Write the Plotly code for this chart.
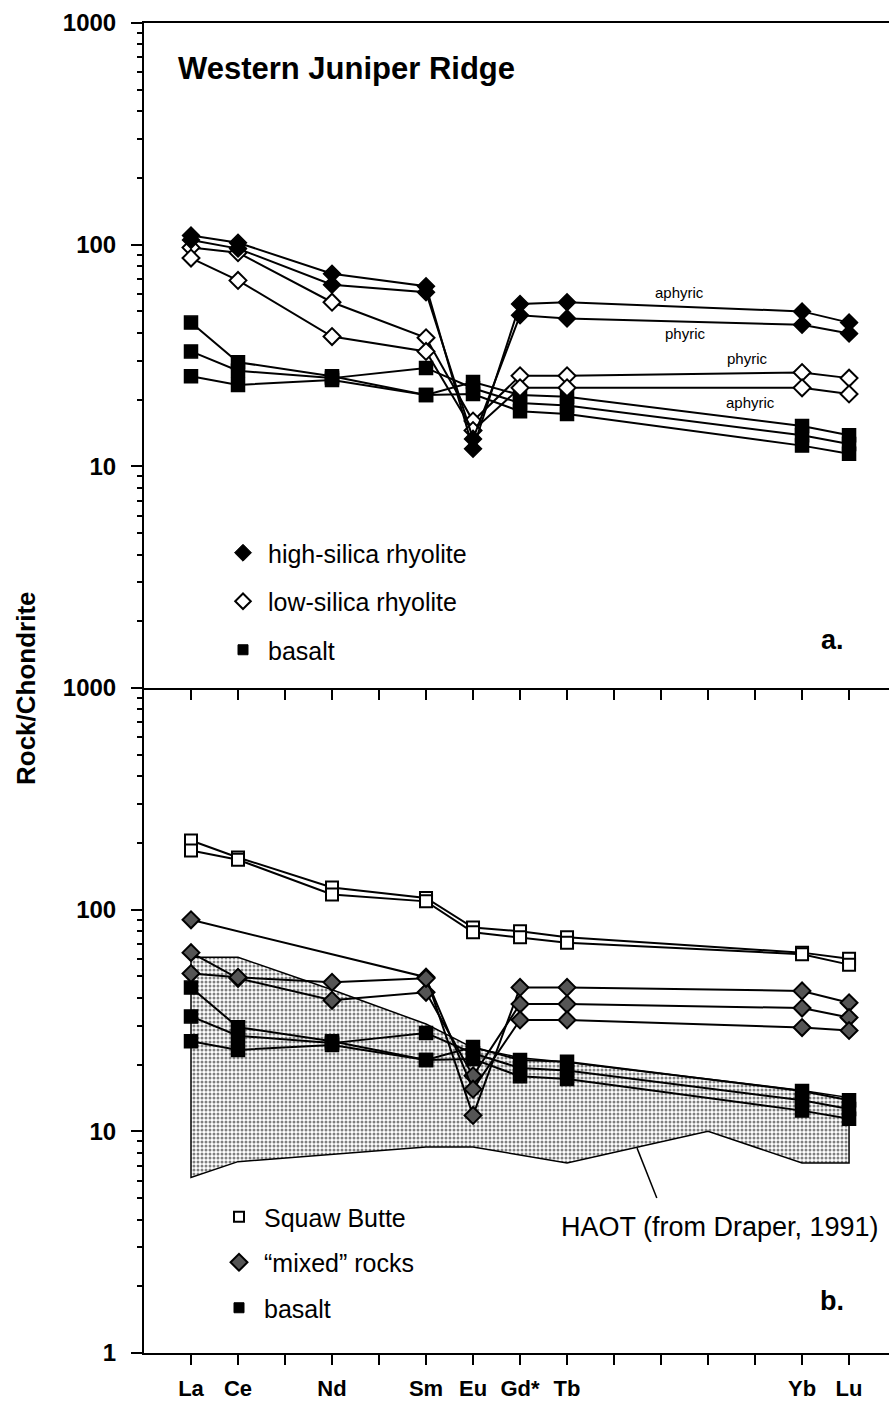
import plotly.graph_objects as go

# ---------------- data ----------------
elements = ["La", "Ce", "Nd", "Sm", "Eu", "Gd*", "Tb", "Yb", "Lu"]
atomic_no = [57, 58, 60, 62, 63, 64, 65, 70, 71]

# panel a: high-silica rhyolite (filled diamonds)
hsr_aphyric = [110, 102, 74, 65, 12.0, 54, 55, 50, 44.5]
hsr_phyric = [105, 96, 66, 61, 13.3, 48, 46.5, 43.5, 39.7]
# panel a: low-silica rhyolite (open diamonds)
lsr_phyric = [97, 92, 55, 38, 16.0, 25.6, 25.6, 26.5, 25.0]
lsr_aphyric = [87, 69, 38.5, 33, 14.5, 22.6, 22.6, 22.6, 21.2]
# basalt (both panels, filled squares)
basalt_1 = [44.5, 29.5, 25.5, 21.0, 24.0, 21.0, 20.6, 15.2, 13.8]
basalt_2 = [33.0, 27.0, 25.0, 27.8, 22.5, 19.3, 18.8, 13.8, 12.6]
basalt_3 = [25.5, 23.3, 24.5, 21.0, 21.2, 17.7, 17.2, 12.4, 11.4]
# panel b: Squaw Butte (open squares)
squaw_1 = [205, 172, 126, 113, 83, 80, 75, 64, 60]
squaw_2 = [185, 168, 117, 109, 79, 75, 71, 63, 56.5]
# panel b: "mixed" rocks (hatched diamonds)
mixed_1 = [90, None, None, 49.6, 11.8, 44.6, 44.6, 43, 38]
mixed_2 = [64, 49.0, 39, 42.4, 17.8, 37.5, 37.5, 36, 32.6]
mixed_3 = [51.5, 49.5, 47, 49.0, 15.5, 31.8, 31.8, 29.4, 28.5]
# HAOT field (Draper, 1991)
haot_up_x = [57, 58, 60, 62, 63, 64, 65, 70, 71]
haot_up_y = [61, 61, 43.5, 30.5, 23.8, 21.5, 20.5, 15.3, 14.2]
haot_lo_x = [57, 58, 62, 63, 65, 68, 70, 71]
haot_lo_y = [6.2, 7.3, 8.5, 8.5, 7.2, 10.0, 7.2, 7.2]
# leader line for HAOT label
leader_x = [66.49, 66.91]
leader_y = [8.4, 5.0]

# axis ticks
x_tickvals = list(range(57, 72))
x_ticktext = ["La", "Ce", "", "Nd", "", "Sm", "Eu", "Gd*", "Tb", "", "", "", "", "Yb", "Lu"]
minor_vals = [m * 10 ** k for k in range(0, 3) for m in range(2, 10)]

FONT = "Liberation Sans, Arial, Helvetica, sans-serif"
W, H = 889, 1402
L, R, T, B = 144, 0, 23, 49

fig = go.Figure()

def line_trace(y, xa, ya, symbol, size, fill, lw=1.5):
    return go.Scatter(
        x=atomic_no, y=y, xaxis=xa, yaxis=ya, mode="lines+markers",
        connectgaps=True, showlegend=False, hoverinfo="skip",
        line=dict(color="black", width=2),
        marker=dict(symbol=symbol, size=size, color=fill,
                    line=dict(color="black", width=lw)),
    )

# ---- panel a ----
for s in [basalt_1, basalt_2, basalt_3]:
    fig.add_trace(line_trace(s, "x", "y", "square", 13, "black"))
for s in [lsr_phyric, lsr_aphyric]:
    fig.add_trace(line_trace(s, "x", "y", "diamond", 13, "white", 2))
for s in [hsr_aphyric, hsr_phyric]:
    fig.add_trace(line_trace(s, "x", "y", "diamond", 13, "black"))

# ---- panel b ----
poly_x = haot_up_x + haot_lo_x[::-1] + [haot_up_x[0]]
poly_y = haot_up_y + haot_lo_y[::-1] + [haot_up_y[0]]
fig.add_trace(go.Scatter(
    x=poly_x, y=poly_y, xaxis="x2", yaxis="y2", mode="lines", fill="toself",
    fillcolor="rgba(0,0,0,0)",
    fillpattern=dict(shape=".", fgcolor="black", bgcolor="white", size=4, solidity=0.45),
    line=dict(color="black", width=1.5), showlegend=False, hoverinfo="skip"))
fig.add_trace(go.Scatter(
    x=leader_x, y=leader_y, xaxis="x2", yaxis="y2", mode="lines",
    line=dict(color="black", width=1.5), showlegend=False, hoverinfo="skip"))
for s in [basalt_1, basalt_2, basalt_3]:
    fig.add_trace(line_trace(s, "x2", "y2", "square", 13, "black"))
for s in [mixed_1, mixed_2, mixed_3]:
    fig.add_trace(line_trace(s, "x2", "y2", "diamond", 13, "#555555", 2))
for s in [squaw_1, squaw_2]:
    fig.add_trace(line_trace(s, "x2", "y2", "square", 12, "white", 2))

# ---- legends ----
def leg(name, symbol, size, fill, lw, legend, grp):
    return go.Scatter(x=[None], y=[None], mode="markers", name=name, legend=legend,
                      legendgroup=grp, xaxis="x", yaxis="y",
                      marker=dict(symbol=symbol, size=size, color=fill,
                                  line=dict(color="black", width=lw)))

fig.add_trace(leg("high-silica rhyolite", "diamond", 13, "black", 1, "legend", "a1"))
fig.add_trace(leg("low-silica rhyolite", "diamond", 12, "white", 2, "legend", "a2"))
fig.add_trace(leg("basalt", "square", 10, "black", 1, "legend", "a3"))
fig.add_trace(leg("Squaw Butte", "square", 10, "white", 2, "legend2", "b1"))
fig.add_trace(leg("\u201cmixed\u201d rocks", "diamond", 13, "#555555", 2, "legend2", "b2"))
fig.add_trace(leg("basalt", "square", 10, "black", 1, "legend2", "b3"))

def px2paper_x(px):
    return (px - L) / (W - L - R)

def px2paper_y(py):
    return (H - B - py) / (H - T - B)

legend_common = dict(
    font=dict(family=FONT, size=25, color="black"),
    bgcolor="rgba(0,0,0,0)", borderwidth=0, itemwidth=40,
    xanchor="left", yanchor="top", itemclick=False, itemdoubleclick=False,
)
layout_legend = dict(legend_common, x=px2paper_x(218), y=px2paper_y(530), tracegroupgap=13)
layout_legend2 = dict(legend_common, x=px2paper_x(214), y=px2paper_y(1194), tracegroupgap=10)

axis_line = dict(showline=True, linecolor="black", linewidth=2, showgrid=False,
                 zeroline=False, ticks="outside", tickcolor="black", tickwidth=2)

xaxis = dict(axis_line, domain=[0, 1], anchor="y", range=[56, 71.85], mirror=True,
             tickvals=x_tickvals, ticklen=10, showticklabels=False)
xaxis2 = dict(axis_line, domain=[0, 1], anchor="y2", range=[56, 71.85],
              tickvals=x_tickvals, ticktext=x_ticktext, ticklen=10, ticklabelstandoff=5,
              tickfont=dict(family=FONT, size=22, color="black", weight="bold"))
ymin = dict(ticks="outside", ticklen=5, tickwidth=1.5, tickcolor="black", tickvals=minor_vals)
yaxis = dict(axis_line, type="log", range=[0, 3], domain=[0.5, 1], anchor="x",
             tickvals=[1, 10, 100, 1000], ticktext=["", "10", "100", "1000"], ticklen=11,
             ticklabelstandoff=10,
             tickfont=dict(family=FONT, size=24, color="black", weight="bold"), minor=ymin)
yaxis2 = dict(axis_line, type="log", range=[0, 3], domain=[0, 0.5], anchor="x2",
              tickvals=[1, 10, 100, 1000], ticktext=["1", "10", "100", "1000"], ticklen=11,
              ticklabelstandoff=10,
              tickfont=dict(family=FONT, size=24, color="black", weight="bold"), minor=ymin)

annotations = [
    dict(text="Western Juniper Ridge", xref="paper", yref="paper",
         x=px2paper_x(176), y=px2paper_y(68), xanchor="left", yanchor="middle",
         showarrow=False, font=dict(family=FONT, size=31, color="black", weight="bold")),
    dict(text="a.", xref="paper", yref="paper", x=px2paper_x(832), y=px2paper_y(640),
         xanchor="center", yanchor="middle", showarrow=False,
         font=dict(family=FONT, size=27, color="black", weight="bold")),
    dict(text="b.", xref="paper", yref="paper", x=px2paper_x(832), y=px2paper_y(1301),
         xanchor="center", yanchor="middle", showarrow=False,
         font=dict(family=FONT, size=27, color="black", weight="bold")),
    dict(text="HAOT (from Draper, 1991)", xref="paper", yref="paper",
         x=px2paper_x(881), y=px2paper_y(1227), xanchor="right", yanchor="middle",
         showarrow=False, font=dict(family=FONT, size=27, color="black")),
    dict(text="Rock/Chondrite", xref="paper", yref="paper", x=px2paper_x(26), y=0.5,
         xanchor="center", yanchor="middle", textangle=-90, showarrow=False,
         font=dict(family=FONT, size=26, color="black", weight="bold")),
]
small = dict(family=FONT, size=15, color="black")
for txt, xx, yy in [("aphyric", 67.40, 1.783), ("phyric", 67.51, 1.598),
                    ("phyric", 68.83, 1.485), ("aphyric", 68.91, 1.286)]:
    annotations.append(dict(text=txt, xref="x", yref="y", x=xx, y=yy, showarrow=False,
                            xanchor="center", yanchor="middle", font=small))

fig.update_layout(
    width=W, height=H, margin=dict(l=L, r=R, t=T, b=B),
    paper_bgcolor="white", plot_bgcolor="white",
    font=dict(family=FONT, color="black"),
    xaxis=xaxis, xaxis2=xaxis2, yaxis=yaxis, yaxis2=yaxis2,
    legend=layout_legend, legend2=layout_legend2,
    annotations=annotations, showlegend=True,
)

fig.write_html(
    "out.html",
    config={"displayModeBar": False},
    post_script="document.body.style.margin='0px';document.body.style.overflow='hidden';",
)
